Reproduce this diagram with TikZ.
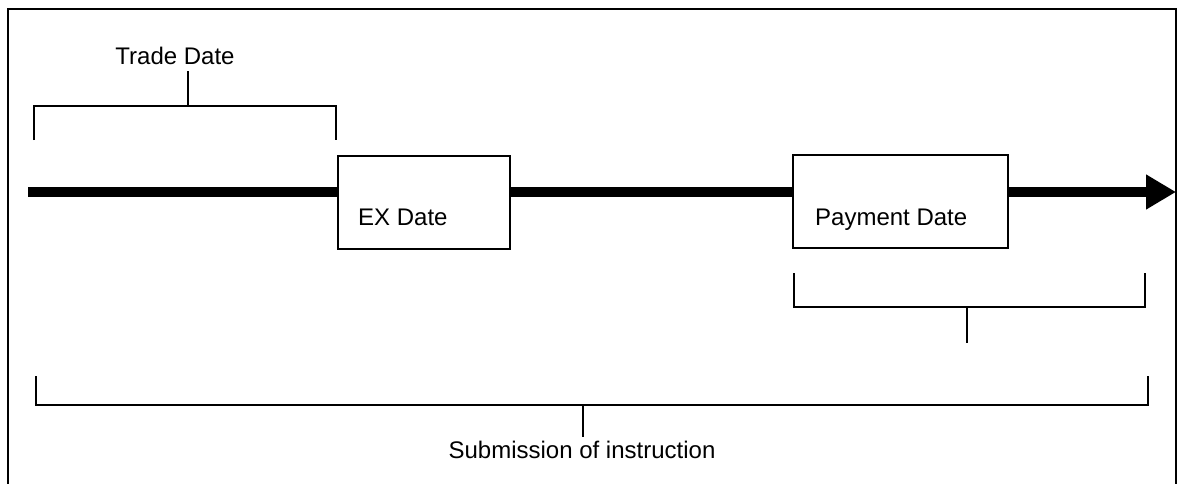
\documentclass[tikz,border=0pt]{standalone}
\usepackage{fontspec}
\setmainfont{Liberation Sans}
\usetikzlibrary{arrows.meta}
\begin{document}
\begin{tikzpicture}[x=1pt,y=-1pt,
  thin line/.style={line width=1.6pt},
  datebox/.style={draw,line width=1.5pt,minimum width=172pt,minimum height=93pt,inner sep=0pt,fill=white},
  lbl/.style={font=\fontsize{24}{28}\selectfont,inner sep=0pt,anchor=base west},
  timeline/.style={line width=10pt}]
\useasboundingbox (0,0) rectangle (1182,484);
% frame
\draw[line width=1.5pt] (8,490) -- (8,9) -- (1176,9) -- (1176,490);
% boxes
\node[datebox] (ex) at (424,202.5) {};
\node[datebox,minimum width=215pt] (pay) at (900.5,201.5) {};
\node[lbl] (exl) at (358,225) {EX Date};
\node[lbl] (payl) at (815,225) {Payment Date};
% timeline
\coordinate (start) at (28,192);
\coordinate (end) at (1176,192);
\draw[timeline] (start) -- (ex.west |- start);
\draw[timeline] (ex.east |- start) -- (pay.west |- start);
\draw[timeline,-{Triangle[length=30pt,width=33pt]}] (pay.east |- start) -- (end);
% trade date bracket
\node[lbl,anchor=base] (trade) at (175,65) {Trade Date};
\coordinate (t1) at (34,140); \coordinate (t2) at (336,140);
\draw[thin line] (t1) -- (34,106) -- (336,106) -- (t2);
\coordinate (tstem) at (188,71);
\draw[thin line] (188,106) -- (tstem);
% payment bracket
\coordinate (p1) at (794,273); \coordinate (p2) at (1145,273);
\draw[thin line] (p1) -- (794,307) -- (1145,307) -- (p2);
\coordinate (pstem) at (967,343);
\draw[thin line] (967,307) -- (pstem);
% submission bracket
\node[lbl,anchor=base] (sub) at (582,458) {Submission of instruction};
\coordinate (s1) at (36,376); \coordinate (s2) at (1148,376);
\draw[thin line] (s1) -- (36,405) -- (1148,405) -- (s2);
\coordinate (sstem) at (583,437);
\draw[thin line] (583,405) -- (sstem);
\end{tikzpicture}
\end{document}
